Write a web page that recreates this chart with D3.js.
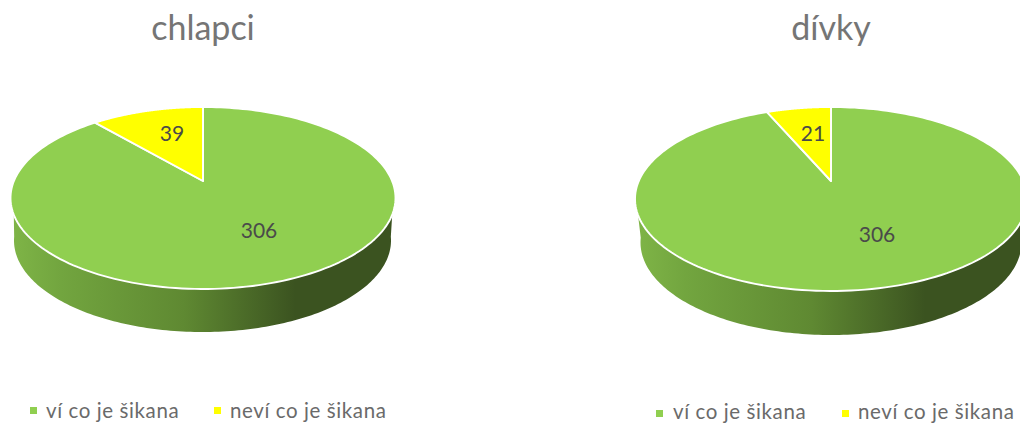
<!DOCTYPE html>
<html><head><meta charset="utf-8">
<script src="https://cdn.jsdelivr.net/npm/d3@7"></script>
<style>html,body{margin:0;padding:0;background:#fff;overflow:hidden}svg{display:block}text{font-family:Lato,"Open Sans",sans-serif}</style>
</head><body><svg id="c" width="1020" height="423"></svg>
<script>
const categories = ["ví co je šikana", "neví co je šikana"];
const titles = ["chlapci", "dívky"];
const valuesChlapci = [306, 39];
const valuesDivky = [306, 21];
const colors = ["#90cf50", "#ffff00"];

const layouts = [
 {values:valuesChlapci,title:titles[0],titleX:203,titleY:40,cx:203,cy:181,top:74,bottom:108,rx:192.5,
  sideDx:-0.5,sideRx:188.5,sideTop:75,sideBottom:108,sideCy:224,
  labels:[[259,230],[172,133]],markY:407,txtY:418,legX:[30,214],txtX:[46,230]},
 {values:valuesDivky,title:titles[1],titleX:831,titleY:40,cx:831,cy:181,top:74,bottom:110,rx:196,
  sideDx:0,sideRx:190.5,sideTop:75,sideBottom:110,sideCy:225,
  labels:[[877,234],[813,133]],markY:410,txtY:418.5,legX:[656,842],txtX:[673,858]}
];

const svg = d3.select("#c");
const defs = svg.append("defs");
const line = d3.line();
const deg = Math.PI/180;

layouts.forEach((L,i)=>{
  const k = -(L.bottom-L.top)/(L.bottom+L.top);
  const B = L.bottom*(1+k);
  const A = L.rx*Math.sqrt(1-k*k);
  const project = (t,cx,cy,a,b,kk)=>{
    const u=Math.sin(t), v=-Math.cos(t), w=1+kk*v;
    return [cx+a*u/w, cy+b*v/w];
  };
  const P = t=>project(t,L.cx,L.cy,A,B,k);
  const kb = -(L.sideBottom-L.sideTop)/(L.sideBottom+L.sideTop);
  const Bb = L.sideBottom*(1+kb);
  const Ab = L.sideRx*Math.sqrt(1-kb*kb);
  const Q = t=>project(t,L.cx+L.sideDx,L.sideCy,Ab,Bb,kb);
  const sweep = (f,a,b,n=160)=>d3.range(n+1).map(j=>f(a+(b-a)*j/n));

  const gid="side"+i;
  const g = defs.append("linearGradient").attr("id",gid).attr("gradientUnits","userSpaceOnUse")
    .attr("x1",L.cx-L.rx).attr("x2",L.cx+L.rx).attr("y1",0).attr("y2",0);
  [[0,"#7fb547"],[0.13,"#72a53f"],[0.45,"#5f8932"],[0.74,"#3b5320"],[1,"#3b5320"]]
    .forEach(s=>g.append("stop").attr("offset",s[0]).attr("stop-color",s[1]));

  const side = sweep(P,111*deg,249*deg).concat(sweep(Q,262*deg,98*deg));
  svg.append("path").attr("d",line(side)+"Z").attr("fill",`url(#${gid})`);

  const pie = d3.pie().sort(null).value(d=>d)(L.values);
  pie.forEach((s,j)=>{
    const pts=[[L.cx,L.cy]].concat(sweep(P,s.startAngle,s.endAngle,200));
    svg.append("path").attr("d",line(pts)+"Z").attr("fill",colors[j])
      .attr("stroke","#fff").attr("stroke-width",1.9).attr("stroke-linejoin","round");
  });
  pie.forEach((s,j)=>{
    svg.append("text").attr("x",L.labels[j][0]).attr("y",L.labels[j][1]+7.5).attr("text-anchor","middle")
      .attr("font-size",21).attr("fill","#4a4a4a").text(L.values[j]);
  });

  svg.append("text").attr("x",L.titleX).attr("y",L.titleY).attr("text-anchor","middle")
    .attr("font-size",34).attr("fill","#757575").text(L.title);

  categories.forEach((c,j)=>{
    svg.append("rect").attr("x",L.legX[j]).attr("y",L.markY).attr("width",7).attr("height",7).attr("fill",colors[j]);
    svg.append("text").attr("x",L.txtX[j]).attr("y",L.txtY).attr("font-size",20.5)
      .attr("letter-spacing",0.6).attr("fill","#6a6a6a").text(c);
  });
});
</script></body></html>
